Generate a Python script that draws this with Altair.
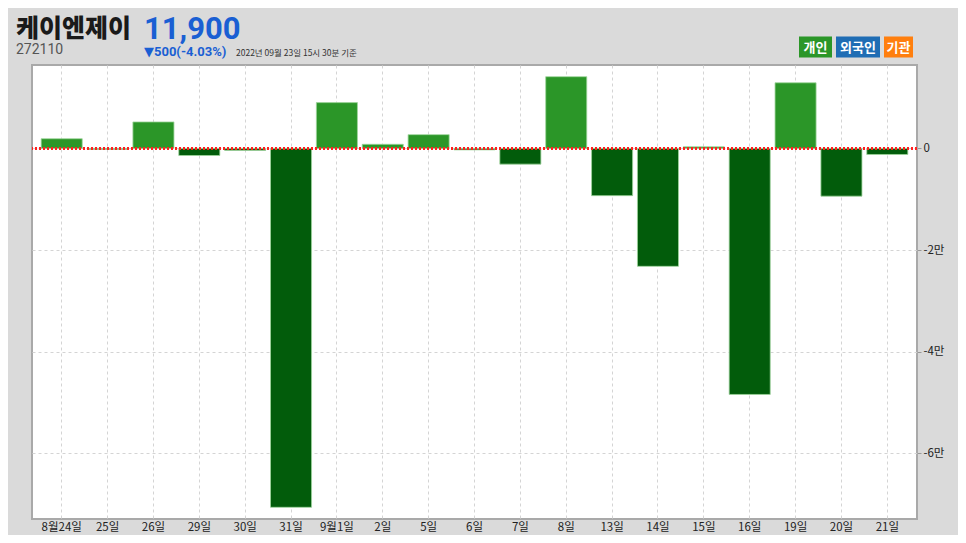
import altair as alt
import pandas as pd

# ---- data ----
dates = ["8월24일", "25일", "26일", "29일", "30일", "31일", "9월1일", "2일", "5일", "6일",
         "7일", "8일", "13일", "14일", "15일", "16일", "19일", "20일", "21일"]
values = [1900, -200, 5200, -1400, -400, -70600, 9000, 800, 2700, -300,
          -3100, 14100, -9300, -23200, 300, -48400, 12900, -9400, -1200]
y_ticks = [0, -20000, -40000, -60000]

stock_name = "케이엔제이"
stock_price = "11,900"
stock_code = "272110"
stock_change = "▼500(-4.03%)"
as_of = "2022년 09월 23일 15시 30분 기준"
legend_labels = ["개인", "외국인", "기관"]
legend_colors = ["#2b9628", "#1f6db4", "#ff7f0e"]

df = pd.DataFrame({"date": dates, "value": values})

POS = "#2b9628"
NEG = "#025c0b"
BLUE = "#1a5fd3"
KR = "Noto Sans CJK KR"

base = alt.Chart(df)

bars = base.mark_bar(stroke="#9fd49c", strokeWidth=1, strokeOpacity=0.8).encode(
    x=alt.X("date:N", sort=None, title=None,
            scale=alt.Scale(paddingInner=0.105, paddingOuter=0.2),
            axis=alt.Axis(labelAngle=0, ticks=False, domain=False, grid=True,
                          gridDash=[3, 3], gridColor="#d4d4d4", bandPosition=0.5,
                          labelFont=KR, labelFontSize=11.5, labelColor="#222222",
                          labelPadding=2)),
    y=alt.Y("value:Q", title=None,
            scale=alt.Scale(domain=[-72900, 16400], nice=False, zero=False),
            axis=alt.Axis(orient="right", values=y_ticks, grid=True, gridDash=[3, 3],
                          gridColor="#d4d4d4", domain=False, tickSize=4, tickColor="#999999",
                          labelFont=KR, labelFontSize=11.5, labelColor="#222222",
                          labelPadding=2,
                          labelExpr="datum.value == 0 ? '0' : (datum.value / 10000) + '만'")),
    color=alt.condition(alt.datum.value >= 0, alt.value(POS), alt.value(NEG)),
)

zero = base.mark_rule(color="#ff2020", strokeDash=[2, 2], strokeWidth=1.5).encode(
    y=alt.datum(0)
)


def txt(s, x, y, size, color, font, weight="normal", align="left", baseline="alphabetic"):
    return alt.Chart(pd.DataFrame({"t": [s]})).mark_text(
        align=align, baseline=baseline, fontSize=size, font=font,
        fontWeight=weight, color=color
    ).encode(text="t:N", x=alt.value(x), y=alt.value(y))


header = [
    txt(stock_name, -16, -28, 25, "#1a1a1a", KR, 900),
    txt(stock_price, 112, -26, 31, BLUE, "Roboto", "bold"),
    txt(stock_code, -16, -11.5, 14, "#555555", "Roboto"),
    txt(stock_change, 112, -9, 13, BLUE, "Roboto, DejaVu Sans", "bold"),
    txt(as_of, 204, -9.5, 8.5, "#333333", KR),
]

box_x = [(767, 800), (804, 848), (852, 881)]
legend_layers = []
for lab, col, (x0, x1) in zip(legend_labels, legend_colors, box_x):
    legend_layers.append(
        alt.Chart(pd.DataFrame({"t": [lab]})).mark_rect(color=col).encode(
            x=alt.value(x0), x2=alt.value(x1), y=alt.value(-28.5), y2=alt.value(-7.5)
        )
    )
    legend_layers.append(
        txt(lab, (x0 + x1) / 2, -17.5, 13, "white", KR, "bold", align="center",
            baseline="middle")
    )

chart = alt.layer(bars, zero, *header, *legend_layers).properties(
    width=885, height=454,
    padding={"left": 24, "top": 57, "right": 41, "bottom": 16},
    autosize="none",
    background="#dadada",
).configure_view(stroke="#a9a9a9", strokeWidth=2, fill="white")

chart.save("out.html", embed_options={"renderer": "svg", "actions": False})
